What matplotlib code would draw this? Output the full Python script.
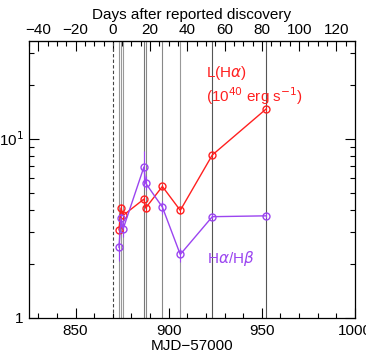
import matplotlib
matplotlib.use("Agg")
import matplotlib.pyplot as plt
from matplotlib.ticker import MultipleLocator, FixedLocator, NullFormatter, LogLocator

plt.rcParams['font.family'] = ['Liberation Sans', 'DejaVu Sans']
plt.rcParams['mathtext.fontset'] = 'dejavusans'

# Data
mjd = [873.3, 874.4, 875.5, 886.7, 887.6, 896.6, 906.2, 923.4, 952.2]
lha = [3.1, 4.1, 3.73, 4.6, 4.1, 5.41, 3.98, 8.1, 14.6]
lha_err = [0.2, 0.2, 0.2, 0.2, 0.2, 0.2, 0.2, 0.25, 0.4]
ratio = [2.48, 3.6, 3.13, 6.95, 5.65, 4.15, 2.26, 3.67, 3.71]
ratio_err = [0.4, 0.3, 0.3, 1.6, 0.5, 0.35, 0.2, 0.12, 0.12]
spec_lines = [873.3, 874.4, 875.5, 886.7, 887.6, 896.6, 906.2, 923.4, 952.2]
spec_grays = ['#999999', '#999999', '#999999', '#777777', '#888888', '#888888', '#999999', '#555555', '#555555']
discovery_mjd = 870.0
day_ticks = [-40, -20, 0, 20, 40, 60, 80, 100, 120]

red = '#ff2020'
purple = '#9b45f0'
fs = 11

fig = plt.figure(figsize=(3.66, 3.53), dpi=100)
ax = fig.add_axes([0.0792, 0.0992, 0.8908, 0.7847])

for x, g in zip(spec_lines, spec_grays):
    ax.axvline(x, color=g, lw=0.8, zorder=1)
ax.axvline(discovery_mjd, color='#444444', lw=0.8, ls=(0, (3, 2)), zorder=1)

ax.errorbar(mjd, lha, yerr=lha_err, color=red, marker='o', mfc='none', mec=red,
            ms=5, mew=1.0, lw=1.0, elinewidth=0.8, capsize=0, zorder=3)
ax.errorbar(mjd, ratio, yerr=ratio_err, color=purple, marker='o', mfc='none', mec=purple,
            ms=5, mew=1.0, lw=1.0, elinewidth=0.8, capsize=0, zorder=3)

ax.set_yscale('log')
ax.set_xlim(825, 1000)
ax.set_ylim(1, 35)

ax.xaxis.set_major_locator(MultipleLocator(50))
ax.xaxis.set_minor_locator(MultipleLocator(10))
ax.yaxis.set_major_locator(FixedLocator([1, 10]))
ax.yaxis.set_minor_locator(LogLocator(base=10, subs=range(2, 10)))
ax.yaxis.set_minor_formatter(NullFormatter())
ax.set_yticklabels(['1', r'10$^{1}$'])

ax.tick_params(which='both', direction='in', top=False, right=True, labelsize=fs, pad=4)
ax.tick_params(which='major', length=7, width=0.8)
ax.tick_params(which='minor', length=3.5, width=0.8)
for s in ax.spines.values():
    s.set_linewidth(0.9)

ax.set_xlabel('MJD\u221257000', fontsize=fs, labelpad=1)

top = ax.secondary_xaxis('top', functions=(lambda m: m - discovery_mjd, lambda d: d + discovery_mjd))
top.xaxis.set_major_locator(FixedLocator(day_ticks))
top.xaxis.set_minor_locator(MultipleLocator(5))
top.tick_params(which='both', direction='in', labelsize=fs, pad=3)
top.tick_params(which='major', length=7, width=0.8)
top.tick_params(which='minor', length=3.5, width=0.8)
top.xaxis.set_major_formatter(plt.FuncFormatter(lambda v, p: f'{int(round(v))}'.replace('-', '\u2212')))
top.set_xlabel('Days after reported discovery', fontsize=fs, labelpad=3)

ax.text(0.542, 0.885, r'L(H$\alpha$)', transform=ax.transAxes, color=red, fontsize=fs, va='center')
ax.text(0.542, 0.800, r'(10$^{40}$ erg s$^{-1}$)', transform=ax.transAxes, color=red, fontsize=fs, va='center')
ax.text(0.545, 0.213, r'H$\alpha$/H$\beta$', transform=ax.transAxes, color=purple, fontsize=fs, va='center')

fig.savefig('out.png', dpi=100)
